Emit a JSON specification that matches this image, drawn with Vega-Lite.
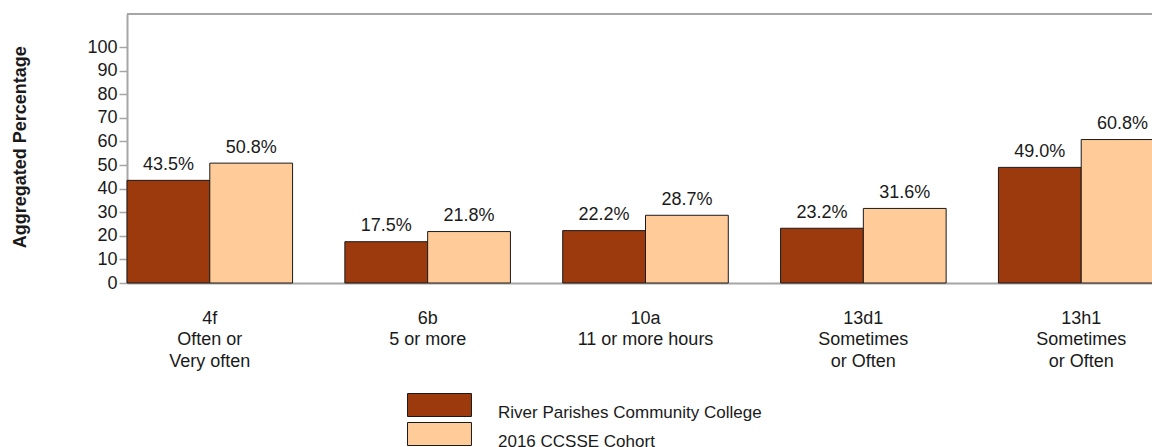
{
  "$schema": "https://vega.github.io/schema/vega-lite/v6.json",
  "width": 1025,
  "height": 269,
  "autosize": {"type": "none"},
  "padding": {"left": 127, "top": 14, "right": 0, "bottom": 164},
  "config": {
    "view": {"stroke": null},
    "font": "Liberation Sans"
  },
  "data": {
    "values": [
      {"item": "4f|Often or|Very often", "group": "River Parishes Community College", "value": 43.5},
      {"item": "4f|Often or|Very often", "group": "2016 CCSSE Cohort", "value": 50.8},
      {"item": "6b|5 or more", "group": "River Parishes Community College", "value": 17.5},
      {"item": "6b|5 or more", "group": "2016 CCSSE Cohort", "value": 21.8},
      {"item": "10a|11 or more hours", "group": "River Parishes Community College", "value": 22.2},
      {"item": "10a|11 or more hours", "group": "2016 CCSSE Cohort", "value": 28.7},
      {"item": "13d1|Sometimes|or Often", "group": "River Parishes Community College", "value": 23.2},
      {"item": "13d1|Sometimes|or Often", "group": "2016 CCSSE Cohort", "value": 31.6},
      {"item": "13h1|Sometimes|or Often", "group": "River Parishes Community College", "value": 49.0},
      {"item": "13h1|Sometimes|or Often", "group": "2016 CCSSE Cohort", "value": 60.8}
    ]
  },
  "transform": [
    {"calculate": "format(datum.value, '.1f') + '%'", "as": "label"}
  ],
  "encoding": {
    "x": {
      "field": "item",
      "type": "nominal",
      "sort": null,
      "scale": {"range": [0, 1037], "paddingInner": 0.24, "paddingOuter": 0},
      "axis": {
        "title": null,
        "labelExpr": "split(datum.label, '|')",
        "ticks": false,
        "tickSize": 0,
        "labelPadding": 26,
        "labelFontSize": 18,
        "labelLineHeight": 21.5,
        "labelColor": "#1a1a1a",
        "labelBaseline": "top",
        "labelAngle": 0,
        "domainColor": "#a6a6a6",
        "domainWidth": 2,
        "labelOverlap": false,
        "labelLimit": 0,
        "labelFlush": false,
        "labelBound": false
      }
    },
    "xOffset": {
      "field": "group",
      "type": "nominal",
      "sort": null,
      "scale": {"paddingInner": 0, "paddingOuter": 0}
    },
    "y": {
      "field": "value",
      "type": "quantitative",
      "scale": {"domain": [0, 114], "nice": false},
      "axis": {
        "values": [0, 10, 20, 30, 40, 50, 60, 70, 80, 90, 100],
        "grid": false,
        "tickSize": 8,
        "tickColor": "#a6a6a6",
        "tickWidth": 1.5,
        "domainColor": "#a6a6a6",
        "domainWidth": 2,
        "labelFontSize": 18,
        "labelColor": "#1a1a1a",
        "labelPadding": 2,
        "title": "Aggregated Percentage",
        "titleFontSize": 18,
        "titleFontWeight": "bold",
        "titleColor": "#1a1a1a",
        "titleX": -107,
        "titleY": 132.7,
        "titleAngle": -90,
        "titleAlign": "center",
        "titleBaseline": "middle"
      }
    }
  },
  "layer": [
    {
      "mark": {"type": "bar", "stroke": "#1a1a1a", "strokeWidth": 1},
      "encoding": {
        "color": {
          "field": "group",
          "type": "nominal",
          "sort": null,
          "scale": {"range": ["#9c3a0e", "#ffcc99"]},
          "legend": {
            "orient": "none",
            "legendX": 300.5,
            "legendY": 379,
            "title": null,
            "symbolType": "M-2.78,-1H2.78V1H-2.78Z",
            "symbolSize": 529,
            "symbolStrokeColor": "#1a1a1a",
            "symbolStrokeWidth": 1,
            "symbolOpacity": 1,
            "labelFontSize": 17,
            "labelColor": "#1a1a1a",
            "labelOffset": 46.5,
            "labelBaseline": "top",
            "rowPadding": -1,
            "padding": 0,
            "labelLimit": 0
          }
        }
      }
    },
    {
      "mark": {"type": "text", "dy": -10.5, "baseline": "alphabetic", "fontSize": 18, "color": "#1a1a1a"},
      "encoding": {"text": {"field": "label"}}
    },
    {
      "mark": {"type": "rule", "color": "#a6a6a6", "strokeWidth": 2},
      "encoding": {"y": {"datum": 114}, "x": null, "xOffset": null}
    }
  ]
}
